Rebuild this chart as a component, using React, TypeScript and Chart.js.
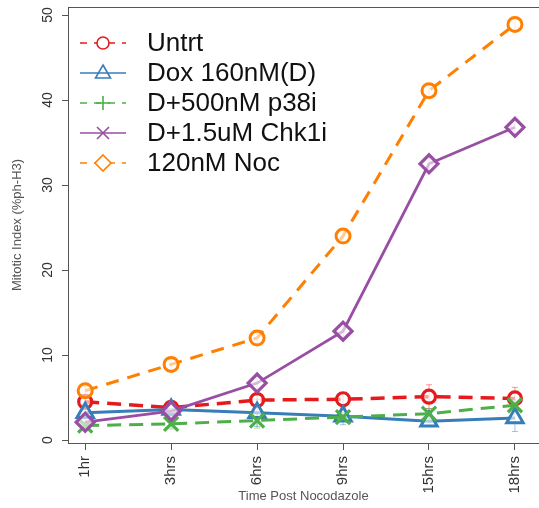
import React, { useEffect, useRef } from 'react';
import { Chart, registerables } from 'chart.js';

Chart.register(...registerables);

const FONT = '"Liberation Sans", Arial, sans-serif';

const categories = ['1hr', '3hrs', '6hrs', '9hrs', '15hrs', '18hrs'];
const seriesNames = ['Untrt', 'Dox 160nM(D)', 'D+500nM p38i', 'D+1.5uM Chk1i', '120nM Noc'];
const untrt = [4.5, 3.8, 4.7, 4.8, 5.1, 4.9];
const dox = [3.2, 3.6, 3.2, 2.8, 2.2, 2.6];
const p38i = [1.7, 1.9, 2.3, 2.7, 3.1, 4.1];
const chk1i = [2.1, 3.4, 6.7, 12.8, 32.5, 36.8];
const noc = [5.8, 8.9, 12.0, 24.0, 41.1, 48.9];
const untrtErr = [0.4, 0.5, 0.6, 0.7, 1.4, 1.3];
const doxErr = [0.5, 0.8, 1.6, 1.0, 0.6, 1.6];
const p38iErr = [0.4, 0.6, 0.9, 0.5, 0.6, 0.6];
const chk1iErr = [0.5, 0.5, 0.8, 0.8, 0.8, 0.8];
const nocErr = [0.5, 0.6, 0.6, 0.7, 0.8, 0.8];
const yTicks = [0, 10, 20, 30, 40, 50];

const RED = '#e41a1c';
const BLUE = '#377eb8';
const GREEN = '#4daf4a';
const PURPLE = '#984ea3';
const ORANGE = '#ff7f00';

const legendItems = [
  { color: RED, dash: true, marker: 'circle' },
  { color: BLUE, dash: false, marker: 'triangle' },
  { color: GREEN, dash: true, marker: 'plus' },
  { color: PURPLE, dash: false, marker: 'x' },
  { color: ORANGE, dash: true, marker: 'diamond' },
];

const errors = [untrtErr, doxErr, p38iErr, chk1iErr, nocErr];

function hexA(hex: string, a: number) {
  const r = parseInt(hex.slice(1, 3), 16);
  const g = parseInt(hex.slice(3, 5), 16);
  const b = parseInt(hex.slice(5, 7), 16);
  return `rgba(${r},${g},${b},${a})`;
}

const boxPlugin = {
  id: 'box',
  afterDraw(chart: any) {
    const { ctx, chartArea } = chart;
    ctx.save();
    ctx.strokeStyle = '#555';
    ctx.lineWidth = 1;
    ctx.beginPath();
    ctx.moveTo(chartArea.left, chartArea.top + 0.5);
    ctx.lineTo(chartArea.right, chartArea.top + 0.5);
    ctx.stroke();
    ctx.restore();
  },
};

const errorPlugin = {
  id: 'errbars',
  beforeDatasetsDraw(chart: any) {
    const { ctx } = chart;
    const xs = chart.scales.x;
    const ys = chart.scales.y;
    ctx.save();
    ctx.lineWidth = 1;
    chart.data.datasets.forEach((d: any, di: number) => {
      const err = errors[di];
      ctx.strokeStyle = hexA(d.borderColor, 0.45);
      d.data.forEach((p: any, i: number) => {
        const x = xs.getPixelForValue(p.x);
        const yt = ys.getPixelForValue(p.y + err[i]);
        const yb = ys.getPixelForValue(p.y - err[i]);
        ctx.beginPath();
        ctx.moveTo(x, yt);
        ctx.lineTo(x, yb);
        ctx.moveTo(x - 3, yt);
        ctx.lineTo(x + 3, yt);
        ctx.moveTo(x - 3, yb);
        ctx.lineTo(x + 3, yb);
        ctx.stroke();
      });
    });
    ctx.restore();
  },
};

const legendPlugin = {
  id: 'customLegend',
  afterDraw(chart: any) {
    const { ctx } = chart;
    ctx.save();
    const x0 = 80, x1 = 126, mx = 103, tx = 147, y0 = 43, dy = 30;
    legendItems.forEach((it, i) => {
      const y = y0 + i * dy;
      ctx.strokeStyle = it.color;
      ctx.lineWidth = 1.6;
      ctx.setLineDash(it.dash ? [7, 7] : []);
      ctx.beginPath();
      ctx.moveTo(x0, y);
      ctx.lineTo(x1, y);
      ctx.stroke();
      ctx.setLineDash([]);
      ctx.fillStyle = '#fff';
      ctx.beginPath();
      if (it.marker === 'circle') {
        ctx.arc(mx, y, 6, 0, Math.PI * 2);
        ctx.fill();
        ctx.stroke();
      } else if (it.marker === 'triangle') {
        ctx.moveTo(mx, y - 8);
        ctx.lineTo(mx + 7.5, y + 5);
        ctx.lineTo(mx - 7.5, y + 5);
        ctx.closePath();
        ctx.stroke();
      } else if (it.marker === 'plus') {
        ctx.moveTo(mx - 7, y);
        ctx.lineTo(mx + 7, y);
        ctx.moveTo(mx, y - 7);
        ctx.lineTo(mx, y + 7);
        ctx.stroke();
      } else if (it.marker === 'x') {
        ctx.moveTo(mx - 6, y - 6);
        ctx.lineTo(mx + 6, y + 6);
        ctx.moveTo(mx + 6, y - 6);
        ctx.lineTo(mx - 6, y + 6);
        ctx.stroke();
      } else {
        ctx.moveTo(mx, y - 8);
        ctx.lineTo(mx + 8, y);
        ctx.lineTo(mx, y + 8);
        ctx.lineTo(mx - 8, y);
        ctx.closePath();
        ctx.fill();
        ctx.stroke();
      }
      ctx.fillStyle = '#111';
      ctx.font = `26px ${FONT}`;
      ctx.textAlign = 'left';
      ctx.textBaseline = 'middle';
      ctx.fillText(seriesNames[i], tx, y + 1);
    });
    ctx.restore();
  },
};

function makeDs(
  idx: number,
  data: number[],
  color: string,
  dash: number[],
  style: string,
  radius: number,
  lw: number,
  pw: number,
  order: number
) {
  return {
    label: seriesNames[idx],
    data: data.map((v, i) => ({ x: i + 1, y: v })),
    borderColor: color,
    borderWidth: lw,
    borderDash: dash,
    pointStyle: style,
    pointRadius: radius,
    pointBorderWidth: pw,
    pointBorderColor: color,
    pointBackgroundColor: 'rgba(255,255,255,0.6)',
    tension: 0,
    fill: false,
    order,
  };
}

export default function App() {
  const ref = useRef<HTMLCanvasElement | null>(null);
  useEffect(() => {
    if (!ref.current) return;
    const chart = new Chart(ref.current, {
      type: 'line',
      data: {
        datasets: [
          makeDs(0, untrt, RED, [14, 8], 'circle', 6.5, 3.5, 3.2, 5),
          makeDs(1, dox, BLUE, [], 'triangle', 9.5, 3, 3, 4),
          makeDs(2, p38i, GREEN, [14, 8], 'crossRot', 10, 3, 3.2, 3),
          makeDs(3, chk1i, PURPLE, [], 'rectRot', 9, 2.8, 3.2, 2),
          makeDs(4, noc, ORANGE, [13, 9], 'circle', 7, 3, 3, 1),
        ] as any,
      },
      options: {
        animation: false,
        responsive: false,
        devicePixelRatio: 1,
        layout: { autoPadding: false, padding: { top: 7, right: 0, left: 0, bottom: 0 } },
        plugins: { legend: { display: false }, tooltip: { enabled: false } },
        scales: {
          x: {
            type: 'linear',
            min: 0.8,
            max: 6.28,
            afterBuildTicks: (s: any) => {
              s.ticks = categories.map((_, i) => ({ value: i + 1 }));
            },
            afterFit: (s: any) => {
              s.height = 65;
              s.paddingRight = 0;
              s.paddingLeft = 0;
            },
            ticks: {
              callback: (v: any) => categories[Math.round(Number(v)) - 1] ?? '',
              minRotation: 90,
              maxRotation: 90,
              autoSkip: false,
              padding: 6,
              color: '#333',
              font: { size: 15, family: FONT },
            },
            grid: { display: true, drawOnChartArea: false, drawTicks: true, tickLength: 7, color: '#555' },
            border: { display: true, color: '#555', width: 1 },
            title: {
              display: true,
              text: 'Time Post Nocodazole',
              color: '#555',
              font: { size: 13, family: FONT },
              padding: { top: 0, bottom: 4 },
            },
          },
          y: {
            type: 'linear',
            min: -0.35,
            max: 50.95,
            afterBuildTicks: (s: any) => {
              s.ticks = yTicks.map((v) => ({ value: v }));
            },
            afterFit: (s: any) => {
              s.width = 68;
              s.paddingTop = 0;
              s.paddingBottom = 0;
            },
            ticks: {
              minRotation: 90,
              maxRotation: 90,
              crossAlign: 'center',
              padding: 6,
              color: '#333',
              font: { size: 14, family: FONT },
            },
            grid: { display: true, drawOnChartArea: false, drawTicks: true, tickLength: 6, color: '#555' },
            border: { display: true, color: '#555', width: 1 },
            title: {
              display: true,
              text: 'Mitotic Index (%ph-H3)',
              color: '#555',
              font: { size: 13, family: FONT },
              padding: { top: 10, bottom: 0 },
            },
          },
        },
      } as any,
      plugins: [errorPlugin, boxPlugin, legendPlugin],
    });
    return () => chart.destroy();
  }, []);
  return (
    <div style={{ position: 'absolute', left: 0, top: 0, width: 539, height: 508, background: '#fff' }}>
      <canvas ref={ref} width={539} height={508} style={{ width: 539, height: 508, display: 'block' }} />
    </div>
  );
}
